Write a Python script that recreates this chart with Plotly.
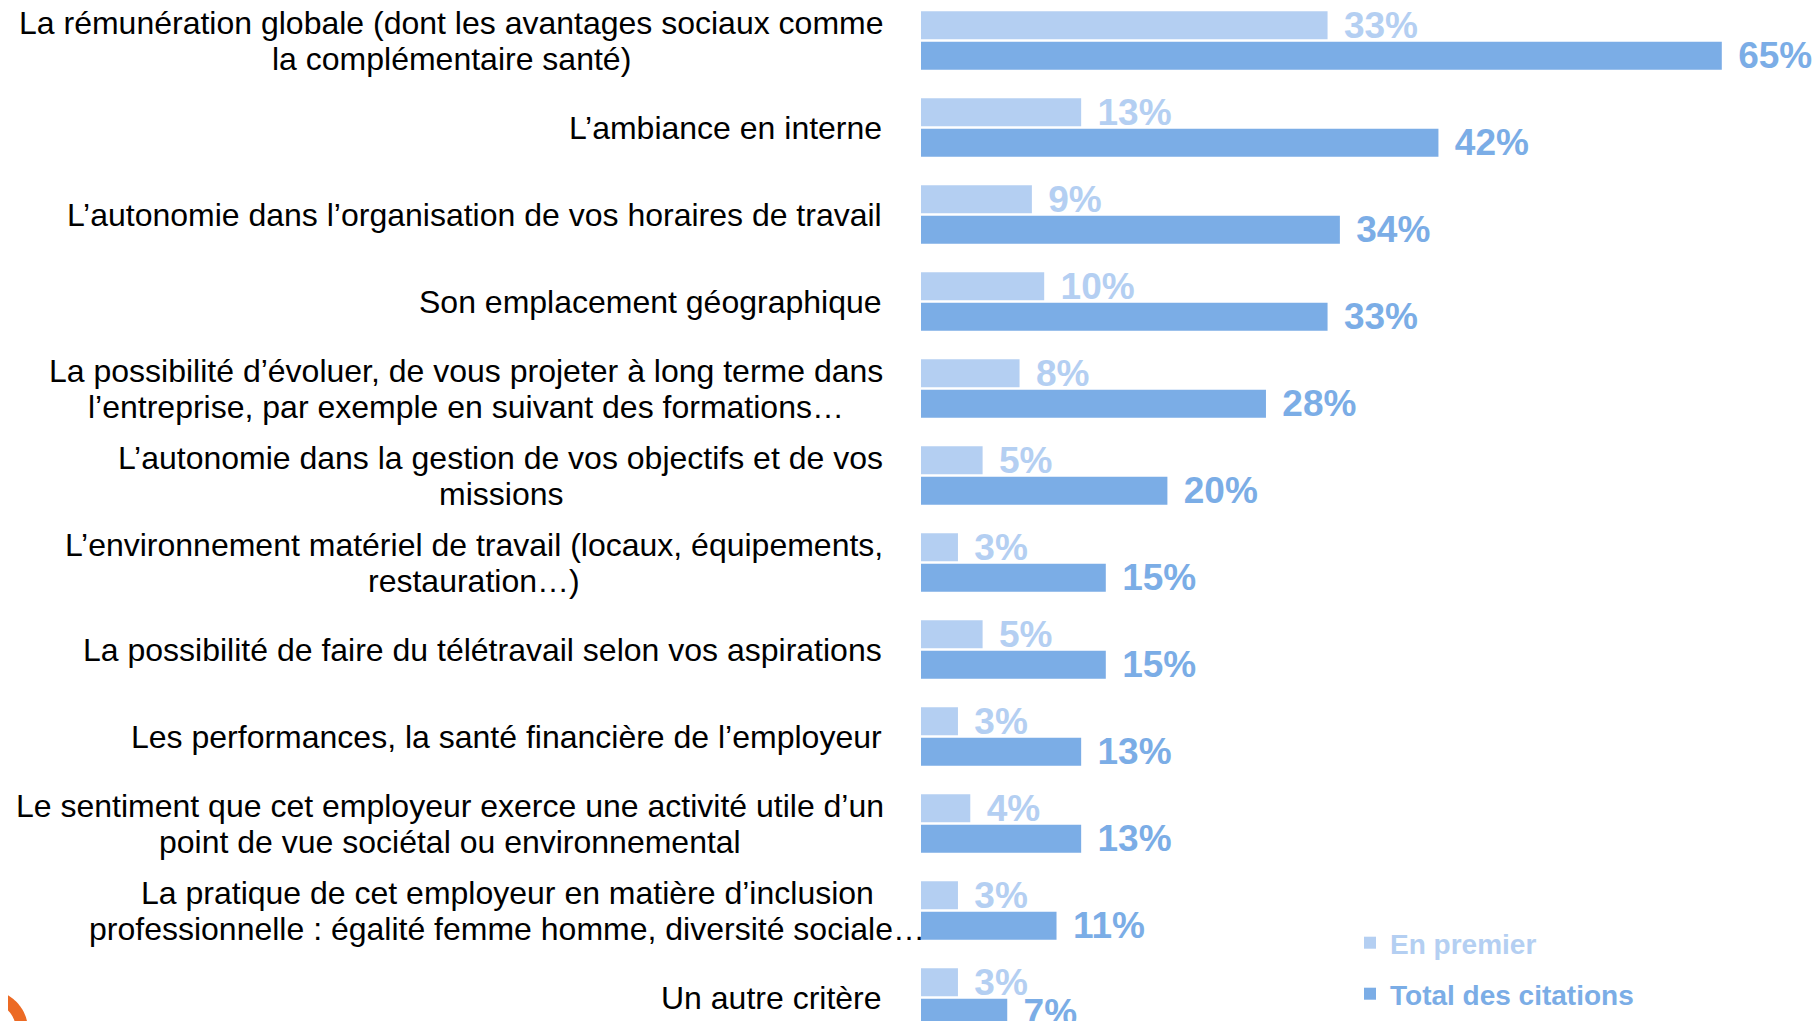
import numpy as np
import plotly.graph_objects as go

categories = [
    "La rémunération globale (dont les avantages sociaux comme<br>la complémentaire santé)",
    "L’ambiance en interne",
    "L’autonomie dans l’organisation de vos horaires de travail",
    "Son emplacement géographique",
    "La possibilité d’évoluer, de vous projeter à long terme dans<br>l’entreprise, par exemple en suivant des formations…",
    "L’autonomie dans la gestion de vos objectifs et de vos<br>missions",
    "L’environnement matériel de travail (locaux, équipements,<br>restauration…)",
    "La possibilité de faire du télétravail selon vos aspirations",
    "Les performances, la santé financière de l’employeur",
    "Le sentiment que cet employeur exerce une activité utile d’un<br>point de vue sociétal ou environnemental",
    "La pratique de cet employeur en matière d’inclusion<br>professionnelle : égalité femme homme, diversité sociale…",
    "Un autre critère",
]
en_premier = [33, 13, 9, 10, 8, 5, 3, 5, 3, 4, 3, 3]
total_citations = [65, 42, 34, 33, 28, 20, 15, 15, 13, 13, 11, 7]
series_names = ["En premier", "Total des citations"]

LIGHT = "#B4CFF2"
DARK = "#7BADE6"
FONT = "Liberation Sans, Arial, sans-serif"
LABEL_SIZE = 32

# page geometry (browser body has an 8px margin)
OFF = 8
PAGE_W, PAGE_H = 1820, 1021
FIG_W, FIG_H = PAGE_W - OFF, PAGE_H - OFF
PLOT_L = 921                       # page x of the bars' zero
plot_w = PAGE_W - PLOT_L
px_per_pct = 12.32
slot = 87.0
first_center = 40.5                # page y of first category centre


def xp(px):
    return (px - PLOT_L) / plot_w


def yp(py):
    return 1 - (py - OFF) / FIG_H


# Arial / Liberation Sans advance widths (1/1000 em) for measuring lines
_W = {" ": 278, "(": 333, ")": 333, ",": 278, ".": 278, ":": 278, "…": 1000,
      "’": 222, "'": 191, "-": 333}
_W.update({c: w for c, w in zip("abcdefghijklmnopqrstuvwxyz",
          [556, 556, 500, 556, 556, 278, 556, 556, 222, 222, 500, 222, 833,
           556, 556, 556, 556, 333, 500, 278, 556, 500, 722, 500, 500, 500])})
_W.update({"é": 556, "è": 556, "ê": 556, "à": 556, "â": 556, "ù": 556,
           "L": 556, "S": 667, "U": 722, "E": 667, "T": 611, "P": 667})


def text_w(s):
    return sum(_W.get(ch, 556) for ch in s) * LABEL_SIZE / 1000


fig = go.Figure()
for vals, name, col, lg in [
    (en_premier, series_names[0], LIGHT, "legend"),
    (total_citations, series_names[1], DARK, "legend2"),
]:
    fig.add_trace(go.Bar(
        y=categories, x=vals, orientation="h", name=name,
        marker=dict(color=col, line=dict(width=0)),
        texttemplate="\u00a0\u200a%{x}%", textposition="outside",
        textfont=dict(family=FONT, size=37, color=col, weight=700),
        constraintext="none", cliponaxis=False, legend=lg,
        hoverinfo="skip",
    ))

# category labels: centred lines inside a right-aligned block
label_right = 884
line_gap = 36
overflow_center = {10: 507}
for i, c in enumerate(categories):
    lines = c.split("<br>")
    if len(lines) == 1:
        fig.add_annotation(
            xref="paper", yref="y", y=c, x=xp(label_right), xanchor="right",
            text=c, showarrow=False, yanchor="middle",
            font=dict(family=FONT, size=LABEL_SIZE, color="#000000"))
        continue
    block_w = max(text_w(s) for s in lines)
    center = overflow_center.get(i, label_right - block_w / 2)
    n = len(lines)
    for k, s in enumerate(lines):
        fig.add_annotation(
            xref="paper", yref="y", y=c, x=xp(center), xanchor="center",
            yshift=-(k - (n - 1) / 2) * line_gap,
            text=s, showarrow=False, yanchor="middle",
            font=dict(family=FONT, size=LABEL_SIZE, color="#000000"))

# decorative orange crescent (logo fragment) at bottom-left corner
t = np.linspace(-np.pi / 2, 0.1, 40)
cx, cy = -12, 1030
outer = [(cx + 40 * np.cos(a), cy + 40 * np.sin(a)) for a in t]
inner = [(cx + 28 * np.cos(a), cy + 28 * np.sin(a)) for a in t[::-1]]
pts = outer + inner
path = "M " + " L ".join(f"{xp(x):.5f},{yp(y):.5f}" for x, y in pts) + " Z"
fig.add_shape(type="path", path=path, xref="paper", yref="paper",
              fillcolor="#EC6A24", line=dict(width=0), layer="above")

top = -(first_center - OFF) / slot
bottom = top + FIG_H / slot

fig.update_layout(
    width=FIG_W, height=FIG_H,
    margin=dict(l=PLOT_L - OFF, r=0, t=0, b=0, pad=0),
    paper_bgcolor="white", plot_bgcolor="white",
    barmode="group", bargap=0.30, bargroupgap=0.08,
    xaxis=dict(range=[0, plot_w / px_per_pct], visible=False, fixedrange=True),
    yaxis=dict(range=[bottom, top], showticklabels=False, showgrid=False,
               zeroline=False, showline=False, ticks="", fixedrange=True),
    showlegend=True,
    legend=dict(x=xp(1350), y=yp(943), xanchor="left", yanchor="middle",
                font=dict(family=FONT, size=28, color=LIGHT, weight=700),
                bgcolor="rgba(0,0,0,0)", borderwidth=0),
    legend2=dict(x=xp(1350), y=yp(994), xanchor="left", yanchor="middle",
                 font=dict(family=FONT, size=28, color=DARK, weight=700),
                 bgcolor="rgba(0,0,0,0)", borderwidth=0),
)

fig.write_html("out.html")
